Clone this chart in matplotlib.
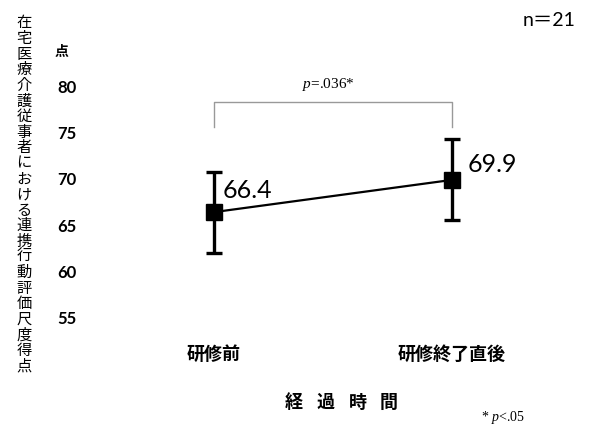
import matplotlib.pyplot as plt

plt.rcParams['mathtext.fontset'] = 'custom'
plt.rcParams['mathtext.it'] = 'Liberation Serif:italic'
plt.rcParams['mathtext.rm'] = 'Liberation Serif'

# data
categories = ['研修前', '研修終了直後']
means = [66.4, 69.9]
sds = [4.4, 4.4]
yticks = [55, 60, 65, 70, 75, 80]
ylabel = '在宅医療介護従事者における連携行動評価尺度得点'
xlabel = '経過時間'
p_text = r'$p$=.036*'
bracket_y = [75.6, 78.4, 78.4, 75.6]

W, H = 592, 428
JP = ['Noto Sans CJK JP', 'DejaVu Sans']

fig = plt.figure(figsize=(W / 100, H / 100), dpi=100)
ax = fig.add_axes([100 / W, 1 - 330 / H, 460 / W, 270 / H])

x = list(range(len(categories)))
ax.errorbar(x, means, yerr=sds, color='black', lw=1.6, marker='s',
            markersize=11, elinewidth=2.4, capsize=6, capthick=2.4, zorder=3)

# value labels
ax.text(x[0] + 0.035, means[0] + 2.3, f'{means[0]:.1f}', fontsize=18,
        family='Lato', va='center', ha='left')
ax.text(x[1] + 0.065, means[1] + 1.7, f'{means[1]:.1f}', fontsize=18,
        family='Lato', va='center', ha='left')

# significance bracket
ax.plot([x[0], x[0], x[1], x[1]], bracket_y, color='#999999', lw=1)
ax.text(0.48, 80.3, p_text, fontsize=11, family='Liberation Serif',
        ha='center', va='center')

ax.set_xlim(-0.479, 1.454)
ax.set_ylim(53.59, 82.93)
ax.set_yticks(yticks)
ax.set_yticklabels([str(t) for t in yticks], fontsize=12,
                   fontweight='bold', family='Lato')
ax.tick_params(axis='y', length=0, pad=17)
ax.set_xticks([])
for s in ax.spines.values():
    s.set_visible(False)

# category labels
for xi, c in zip(x, categories):
    ax.text(xi, 50.9, c, fontsize=13, family=JP, ha='center', va='center',
            fontweight='bold')

# vertical y label, stacked characters
n = len(ylabel)
for i, ch in enumerate(ylabel):
    ypx = 23 + i * (366 - 23) / (n - 1)
    fig.text(24 / W, 1 - ypx / H, ch, fontsize=11, family=JP,
             ha='center', va='center')

# spaced x label
for i, ch in enumerate(xlabel):
    fig.text((294 + i * 31.7) / W, 1 - 402 / H, ch, fontsize=13, family=JP,
             fontweight='bold', ha='center', va='center')

fig.text(62 / W, 1 - 52 / H, '点', fontsize=10, family=JP,
         fontweight='bold', ha='center', va='center')
fig.text(503 / W, 1 - 417 / H, r'* $p$<.05', fontsize=10,
         family='Liberation Serif', ha='center', va='center')
fig.text(549 / W, 1 - 20 / H, 'n＝21', fontsize=14,
         family=['Lato', 'Noto Sans CJK JP'], ha='center', va='center')

fig.savefig('out.png', dpi=100)
